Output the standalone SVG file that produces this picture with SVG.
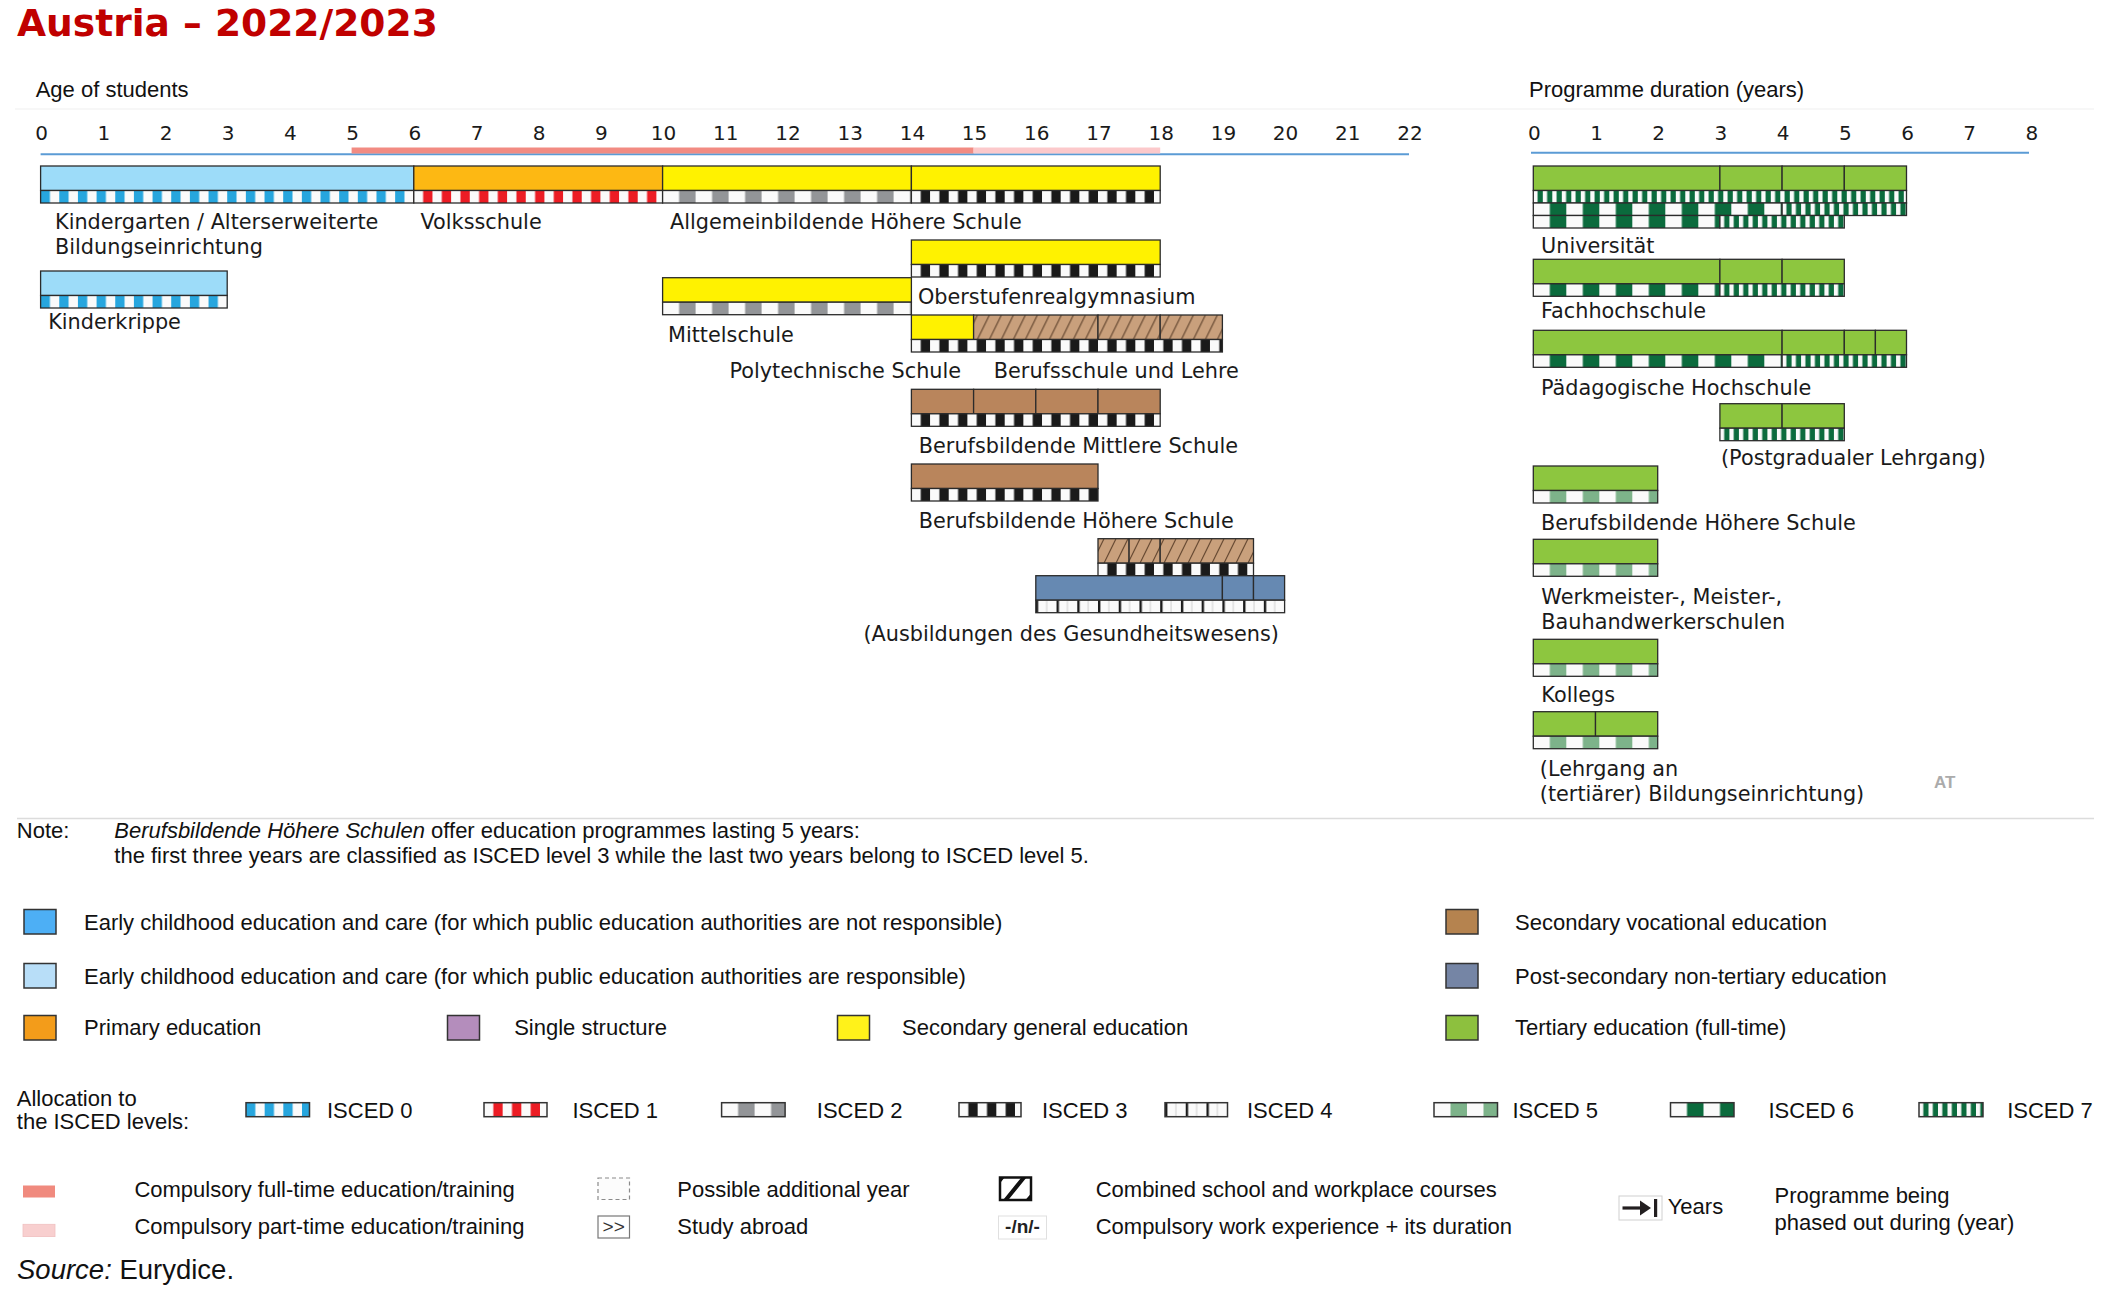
<svg xmlns="http://www.w3.org/2000/svg" width="2108" height="1299" viewBox="0 0 2108 1299">
<style>
.lbl{font-family:"DejaVu Sans",Verdana,sans-serif;font-size:20.8px;fill:#1a1a1a}
.tick{font-family:"DejaVu Sans",Verdana,sans-serif;font-size:20px;fill:#1a1a1a;text-anchor:middle}
.ar{font-family:"Liberation Sans",Arial,sans-serif;font-size:22px;fill:#111}
.bx{stroke:#2b2b2b;stroke-width:1.3}
.sw{stroke:#333;stroke-width:1.5}
.lb{fill:#9DDCF9}.or{fill:#FDB813}.ye{fill:#FFF200}.br{fill:#B9855C}.pb{fill:#6689B2}.gr{fill:#8DC63F}.ht{fill:url(#hatch)}
</style>
<defs>
<pattern id="i0" patternUnits="userSpaceOnUse" width="18.66" height="40"><rect width="18.66" height="40" fill="#fafafa"/><rect width="9.33" height="40" fill="#27A6DE"/></pattern>
<pattern id="i1" patternUnits="userSpaceOnUse" width="18.66" height="40"><rect width="18.66" height="40" fill="#fafafa"/><rect x="9.33" width="9.33" height="40" fill="#EC1C24"/></pattern>
<pattern id="i2" patternUnits="userSpaceOnUse" width="33" height="40"><rect width="33" height="40" fill="#fafafa"/><rect x="16.5" width="16.5" height="40" fill="#939598"/></pattern>
<pattern id="i3" patternUnits="userSpaceOnUse" width="18.66" height="40"><rect width="18.66" height="40" fill="#fafafa"/><rect x="9.33" width="9.33" height="40" fill="#1a1a1a"/></pattern>
<pattern id="i4" patternUnits="userSpaceOnUse" width="20.73" height="40"><rect width="20.73" height="40" fill="#fafafa"/><rect width="2.4" height="40" fill="#1a1a1a"/><rect x="10.4" width="1" height="40" fill="#cfcfcf"/></pattern>
<pattern id="i5" patternUnits="userSpaceOnUse" width="33" height="40"><rect width="33" height="40" fill="#fafafa"/><rect x="16.5" width="16.5" height="40" fill="#7DB38A"/></pattern>
<pattern id="i6" patternUnits="userSpaceOnUse" width="33" height="40"><rect width="33" height="40" fill="#fafafa"/><rect x="16.5" width="16.5" height="40" fill="#0B6B3D"/></pattern>
<pattern id="i7" patternUnits="userSpaceOnUse" width="9.5" height="40"><rect width="9.5" height="40" fill="#fafafa"/><rect x="4.3" width="5.2" height="40" fill="#0B6B3D"/></pattern>
<pattern id="hatch" patternUnits="userSpaceOnUse" width="12" height="24.5"><rect width="12" height="24.5" fill="#C9A07C"/><path d="M-6,24.5 L6,0 M6,24.5 L18,0" stroke="#5a3e28" stroke-width="1"/></pattern>
<clipPath id="hclip"><rect x="1000" y="1177.5" width="31" height="22.5"/></clipPath>
</defs>
<rect width="2108" height="1299" fill="#ffffff"/>

<text x="17" y="35.5" font-family="'DejaVu Sans',Verdana,sans-serif" font-size="37.6" font-weight="bold" fill="#C00000">Austria – 2022/2023</text>

<g id="axes">
<line x1="15" y1="109" x2="2094" y2="109" stroke="#efefef" stroke-width="1"/>
<text class="ar" x="35.7" y="97">Age of students</text>
<text class="ar" x="1529" y="97">Programme duration (years)</text>
<g class="tick">
<text x="41.6" y="139.5">0</text><text x="103.8" y="139.5">1</text><text x="166" y="139.5">2</text><text x="228.2" y="139.5">3</text><text x="290.4" y="139.5">4</text><text x="352.6" y="139.5">5</text><text x="414.8" y="139.5">6</text><text x="477" y="139.5">7</text><text x="539.2" y="139.5">8</text><text x="601.4" y="139.5">9</text><text x="663.6" y="139.5">10</text><text x="725.8" y="139.5">11</text><text x="788" y="139.5">12</text><text x="850.2" y="139.5">13</text><text x="912.4" y="139.5">14</text><text x="974.6" y="139.5">15</text><text x="1036.8" y="139.5">16</text><text x="1099" y="139.5">17</text><text x="1161.2" y="139.5">18</text><text x="1223.4" y="139.5">19</text><text x="1285.6" y="139.5">20</text><text x="1347.8" y="139.5">21</text><text x="1410" y="139.5">22</text>
<text x="1534.3" y="139.5">0</text><text x="1596.5" y="139.5">1</text><text x="1658.7" y="139.5">2</text><text x="1720.9" y="139.5">3</text><text x="1783.1" y="139.5">4</text><text x="1845.3" y="139.5">5</text><text x="1907.5" y="139.5">6</text><text x="1969.7" y="139.5">7</text><text x="2031.9" y="139.5">8</text>
</g>
<line x1="40.6" y1="154.3" x2="1409" y2="154.3" stroke="#5B9BD5" stroke-width="2"/>
<rect x="351.6" y="147.5" width="622" height="6" fill="#F28B82"/>
<rect x="973.6" y="147.5" width="186.6" height="6" fill="#FCC9CB"/>
<line x1="1531" y1="152.8" x2="2029" y2="152.8" stroke="#5B9BD5" stroke-width="2"/>
</g>

<g id="connectors"></g>

<!-- Left side programmes -->
<g id="main-row" transform="translate(40.6,166)">
<rect class="bx lb" x="0" y="0" width="373.2" height="24.5"/>
<rect class="bx or" x="373.2" y="0" width="248.8" height="24.5"/>
<rect class="bx ye" x="622" y="0" width="248.8" height="24.5"/>
<rect class="bx ye" x="870.8" y="0" width="248.8" height="24.5"/>
<g transform="translate(0,24.5)"><rect class="bx" width="373.2" height="12.5" fill="url(#i0)"/></g>
<g transform="translate(373.2,24.5)"><rect class="bx" width="248.8" height="12.5" fill="url(#i1)"/></g>
<g transform="translate(622,24.5)"><rect class="bx" width="248.8" height="12.5" fill="url(#i2)"/></g>
<g transform="translate(870.8,24.5)"><rect class="bx" width="248.8" height="12.5" fill="url(#i3)"/></g>
</g>
<text class="lbl" x="55" y="229.3">Kindergarten / Alterserweiterte</text>
<text class="lbl" x="55" y="254.3">Bildungseinrichtung</text>
<text class="lbl" x="420.5" y="229.3">Volksschule</text>
<text class="lbl" x="670" y="229.3">Allgemeinbildende Höhere Schule</text>

<g id="kinderkrippe" transform="translate(40.6,271)">
<rect class="bx lb" width="186.6" height="24.5"/>
<g transform="translate(0,24.5)"><rect class="bx" width="186.6" height="12.5" fill="url(#i0)"/></g>
<text class="lbl" x="7.6" y="57.5">Kinderkrippe</text>
</g>

<g id="oberstufenrealgymnasium" transform="translate(911.4,240)">
<rect class="bx ye" width="248.8" height="24.5"/>
<g transform="translate(0,24.5)"><rect class="bx" width="248.8" height="12.5" fill="url(#i3)"/></g>
<text class="lbl" x="6.5" y="64.3">Oberstufenrealgymnasium</text>
</g>

<g id="mittelschule" transform="translate(662.6,277.7)">
<rect class="bx ye" width="248.8" height="24.5"/>
<g transform="translate(0,24.5)"><rect class="bx" width="248.8" height="12.5" fill="url(#i2)"/></g>
<text class="lbl" x="5.4" y="64">Mittelschule</text>
</g>

<g id="polytechnische-berufsschule" transform="translate(911.4,315)">
<rect class="bx ye" width="62.2" height="24.5"/>
<rect class="bx ht" x="62.2" width="124.4" height="24.5"/>
<rect class="bx ht" x="186.6" width="62.2" height="24.5"/>
<rect class="bx ht" x="248.8" width="62.2" height="24.5"/>
<g transform="translate(0,24.5)"><rect class="bx" width="311" height="12.5" fill="url(#i3)"/></g>
<text class="lbl" x="-181.9" y="63.3">Polytechnische Schule</text>
<text class="lbl" x="82.4" y="63.3">Berufsschule und Lehre</text>
</g>

<g id="bms" transform="translate(911.4,389.3)">
<rect class="bx br" width="62.2" height="24.5"/>
<rect class="bx br" x="62.2" width="62.2" height="24.5"/>
<rect class="bx br" x="124.4" width="62.2" height="24.5"/>
<rect class="bx br" x="186.6" width="62.2" height="24.5"/>
<g transform="translate(0,24.5)"><rect class="bx" width="248.8" height="12.5" fill="url(#i3)"/></g>
<text class="lbl" x="7.4" y="64">Berufsbildende Mittlere Schule</text>
</g>

<g id="bhs-left" transform="translate(911.4,464)">
<rect class="bx br" width="186.6" height="24.5"/>
<g transform="translate(0,24.5)"><rect class="bx" width="186.6" height="12.5" fill="url(#i3)"/></g>
<text class="lbl" x="7.4" y="64.3">Berufsbildende Höhere Schule</text>
</g>

<g id="combined-health" transform="translate(1098,538.7)">
<rect class="bx ht" width="31.1" height="24.5"/>
<rect class="bx ht" x="31.1" width="31.1" height="24.5"/>
<rect class="bx ht" x="62.2" width="93.3" height="24.5"/>
<g transform="translate(0,24.5)"><rect class="bx" width="155.5" height="12.5" fill="url(#i3)"/></g>
</g>

<g id="gesundheitswesen" transform="translate(1035.8,575.7)">
<rect class="bx pb" width="186.6" height="24.5"/>
<rect class="bx pb" x="186.6" width="31.1" height="24.5"/>
<rect class="bx pb" x="217.7" width="31.1" height="24.5"/>
<g transform="translate(0,24.5)"><rect class="bx" width="248.8" height="12.5" fill="url(#i4)"/></g>
<text class="lbl" x="-172.4" y="65">(Ausbildungen des Gesundheitswesens)</text>
</g>

<!-- Right side tertiary -->
<g id="universitaet" transform="translate(1533.3,166)">
<rect class="bx gr" width="186.6" height="24.5"/>
<rect class="bx gr" x="186.6" width="62.2" height="24.5"/>
<rect class="bx gr" x="248.8" width="62.2" height="24.5"/>
<rect class="bx gr" x="311" width="62.2" height="24.5"/>
<g transform="translate(0,24.5)"><rect class="bx" width="373.2" height="12.5" fill="url(#i7)"/></g>
<g transform="translate(0,37)"><rect class="bx" width="248.8" height="12.5" fill="url(#i6)"/></g>
<g transform="translate(248.8,37)"><rect class="bx" width="124.4" height="12.5" fill="url(#i7)"/></g>
<g transform="translate(0,49.5)"><rect class="bx" width="186.6" height="12.5" fill="url(#i6)"/></g>
<g transform="translate(186.6,49.5)"><rect class="bx" width="124.4" height="12.5" fill="url(#i7)"/></g>
<text class="lbl" x="7.7" y="87">Universität</text>
</g>

<g id="fachhochschule" transform="translate(1533.3,259.3)">
<rect class="bx gr" width="186.6" height="24.5"/>
<rect class="bx gr" x="186.6" width="62.2" height="24.5"/>
<rect class="bx gr" x="248.8" width="62.2" height="24.5"/>
<g transform="translate(0,24.5)"><rect class="bx" width="186.6" height="12.5" fill="url(#i6)"/></g>
<g transform="translate(186.6,24.5)"><rect class="bx" width="124.4" height="12.5" fill="url(#i7)"/></g>
<text class="lbl" x="7.7" y="59.2">Fachhochschule</text>
</g>

<g id="paedagogische-hochschule" transform="translate(1533.3,330.3)">
<rect class="bx gr" width="248.8" height="24.5"/>
<rect class="bx gr" x="248.8" width="62.2" height="24.5"/>
<rect class="bx gr" x="311" width="31.1" height="24.5"/>
<rect class="bx gr" x="342.1" width="31.1" height="24.5"/>
<g transform="translate(0,24.5)"><rect class="bx" width="248.8" height="12.5" fill="url(#i6)"/></g>
<g transform="translate(248.8,24.5)"><rect class="bx" width="124.4" height="12.5" fill="url(#i7)"/></g>
<text class="lbl" x="7.7" y="64.7">Pädagogische Hochschule</text>
</g>

<g id="postgradualer-lehrgang" transform="translate(1719.9,403.7)">
<rect class="bx gr" width="62.2" height="24.5"/>
<rect class="bx gr" x="62.2" width="62.2" height="24.5"/>
<g transform="translate(0,24.5)"><rect class="bx" width="124.4" height="12.5" fill="url(#i7)"/></g>
<text class="lbl" x="1.1" y="61.8">(Postgradualer Lehrgang)</text>
</g>

<g id="bhs-right" transform="translate(1533.3,466)">
<rect class="bx gr" width="124.4" height="24.5"/>
<g transform="translate(0,24.5)"><rect class="bx" width="124.4" height="12.5" fill="url(#i5)"/></g>
<text class="lbl" x="7.7" y="64">Berufsbildende Höhere Schule</text>
</g>

<g id="werkmeister" transform="translate(1533.3,539.3)">
<rect class="bx gr" width="124.4" height="24.5"/>
<g transform="translate(0,24.5)"><rect class="bx" width="124.4" height="12.5" fill="url(#i5)"/></g>
<text class="lbl" x="8" y="64.7">Werkmeister-, Meister-,</text>
<text class="lbl" x="8" y="89.7">Bauhandwerkerschulen</text>
</g>

<g id="kollegs" transform="translate(1533.3,639.3)">
<rect class="bx gr" width="124.4" height="24.5"/>
<g transform="translate(0,24.5)"><rect class="bx" width="124.4" height="12.5" fill="url(#i5)"/></g>
<text class="lbl" x="8" y="62.4">Kollegs</text>
</g>

<g id="lehrgang-an" transform="translate(1533.3,711.7)">
<rect class="bx gr" width="62.2" height="24.5"/>
<rect class="bx gr" x="62.2" width="62.2" height="24.5"/>
<g transform="translate(0,24.5)"><rect class="bx" width="124.4" height="12.5" fill="url(#i5)"/></g>
<text class="lbl" x="6.5" y="64.6">(Lehrgang an</text>
<text class="lbl" x="6.5" y="89.6">(tertiärer) Bildungseinrichtung)</text>
</g>

<text x="1934" y="787.5" font-family="'Liberation Sans',Arial,sans-serif" font-size="17" font-weight="bold" fill="#ababab">AT</text>
<line x1="17" y1="818.5" x2="2094" y2="818.5" stroke="#dcdcdc" stroke-width="1.5"/>

<!-- Note -->
<g id="note">
<text class="ar" x="16.8" y="838.3">Note:</text>
<text class="ar" x="114.3" y="838.3"><tspan font-style="italic">Berufsbildende Höhere Schulen</tspan> offer education programmes lasting 5 years:</text>
<text class="ar" x="114.3" y="863.3">the first three years are classified as ISCED level 3 while the last two years belong to ISCED level 5.</text>
</g>

<!-- Legend: categories -->
<g id="legend-categories">
<rect class="sw" x="24" y="909.5" width="32" height="24.5" fill="#4DAFF5"/>
<text class="ar" x="84" y="930">Early childhood education and care (for which public education authorities are not responsible)</text>
<rect class="sw" x="24" y="963.5" width="32" height="24.5" fill="#B8DEF8"/>
<text class="ar" x="84" y="984.3">Early childhood education and care (for which public education authorities are responsible)</text>
<rect class="sw" x="24" y="1015.5" width="32" height="24.5" fill="#F39C1A"/>
<text class="ar" x="84" y="1035">Primary education</text>
<rect class="sw" x="447.5" y="1015.5" width="32" height="24.5" fill="#B48DBC"/>
<text class="ar" x="514.2" y="1035">Single structure</text>
<rect class="sw" x="837.5" y="1015.5" width="32" height="24.5" fill="#FFF21A"/>
<text class="ar" x="902" y="1035">Secondary general education</text>
<rect class="sw" x="1446" y="909.5" width="32" height="24.5" fill="#B5834F"/>
<text class="ar" x="1515" y="930">Secondary vocational education</text>
<rect class="sw" x="1446" y="963.5" width="32" height="24.5" fill="#7585A5"/>
<text class="ar" x="1515" y="984.3">Post-secondary non-tertiary education</text>
<rect class="sw" x="1446" y="1015.5" width="32" height="24.5" fill="#8DC03E"/>
<text class="ar" x="1515" y="1035">Tertiary education (full-time)</text>
</g>

<!-- Legend: ISCED levels -->
<g id="legend-isced">
<text class="ar" x="16.8" y="1106">Allocation to</text>
<text class="ar" x="16.8" y="1129">the ISCED levels:</text>
<g transform="translate(246,1102.7)"><rect class="sw" width="63.5" height="14" fill="url(#i0)"/></g>
<text class="ar" x="327" y="1118.3">ISCED 0</text>
<g transform="translate(484,1102.7)"><rect class="sw" width="63" height="14" fill="url(#i1)"/></g>
<text class="ar" x="572.5" y="1118.3">ISCED 1</text>
<g transform="translate(721.6,1102.7)"><rect class="sw" width="63.5" height="14" fill="url(#i2)"/></g>
<text class="ar" x="816.8" y="1118.3">ISCED 2</text>
<g transform="translate(959,1102.7)"><rect class="sw" width="62" height="14" fill="url(#i3)"/></g>
<text class="ar" x="1042" y="1118.3">ISCED 3</text>
<g transform="translate(1165,1102.7)"><rect class="sw" width="62.5" height="14" fill="url(#i4)"/></g>
<text class="ar" x="1247" y="1118.3">ISCED 4</text>
<g transform="translate(1434,1102.7)"><rect class="sw" width="63.5" height="14" fill="url(#i5)"/></g>
<text class="ar" x="1512.4" y="1118.3">ISCED 5</text>
<g transform="translate(1670.5,1102.7)"><rect class="sw" width="63.5" height="14" fill="url(#i6)"/></g>
<text class="ar" x="1768.5" y="1118.3">ISCED 6</text>
<g transform="translate(1919,1102.7)"><rect class="sw" width="64" height="14" fill="url(#i7)"/></g>
<text class="ar" x="2007.2" y="1118.3">ISCED 7</text>
</g>

<!-- Legend: other symbols -->
<g id="legend-symbols">
<rect x="23" y="1185.5" width="32" height="12" fill="#F08A7E"/>
<text class="ar" x="134.4" y="1196.5">Compulsory full-time education/training</text>
<rect x="23" y="1224.3" width="32" height="12.3" fill="#F8CFCF" stroke="#f0c0c0" stroke-width="0.8"/>
<text class="ar" x="134.4" y="1233.5">Compulsory part-time education/training</text>
<rect x="598" y="1178" width="31.5" height="21.5" fill="#fcfcfc" stroke="#8a8a8a" stroke-width="1.2" stroke-dasharray="4,3"/>
<text class="ar" x="677.3" y="1196.5">Possible additional year</text>
<rect x="598" y="1216" width="31.5" height="22" fill="#ffffff" stroke="#777" stroke-width="1.2"/>
<text x="613.7" y="1233" font-family="'Liberation Sans',Arial,sans-serif" font-size="19" fill="#333" text-anchor="middle">&gt;&gt;</text>
<text class="ar" x="677.3" y="1233.5">Study abroad</text>
<g clip-path="url(#hclip)">
<rect x="1000" y="1177.5" width="31" height="22.5" fill="#ffffff"/>
<path d="M992,1190 L1008,1170 M1000,1207 L1030,1170 M1022,1207 L1040,1186" stroke="#111" stroke-width="4"/>
</g>
<rect x="1000" y="1177.5" width="31" height="22.5" fill="none" stroke="#111" stroke-width="2.5"/>
<text class="ar" x="1095.7" y="1196.5">Combined school and workplace courses</text>
<rect x="998.5" y="1216" width="48" height="23" fill="#ffffff" stroke="#e0e0e0" stroke-width="1"/>
<text x="1022.5" y="1233" font-family="'Liberation Sans',Arial,sans-serif" font-size="19" font-weight="bold" fill="#222" text-anchor="middle">-/n/-</text>
<text class="ar" x="1095.7" y="1233.5">Compulsory work experience + its duration</text>
<rect x="1619" y="1196" width="43" height="24" fill="#ffffff" stroke="#d0d0d0" stroke-width="1"/>
<path d="M1622.5,1208 L1645,1208" stroke="#231f20" stroke-width="3.2"/>
<path d="M1640,1200.5 L1651,1208 L1640,1215.5 Z" fill="#231f20"/>
<rect x="1654" y="1199" width="3.2" height="18" fill="#231f20"/>
<text class="ar" x="1667.7" y="1214">Years</text>
<text class="ar" x="1774.6" y="1202.7">Programme being</text>
<text class="ar" x="1774.6" y="1229.5">phased out during (year)</text>
</g>

<text x="17" y="1279" font-family="'Liberation Sans',Arial,sans-serif" font-size="27.5" fill="#111"><tspan font-style="italic">Source:</tspan> Eurydice.</text>
</svg>
